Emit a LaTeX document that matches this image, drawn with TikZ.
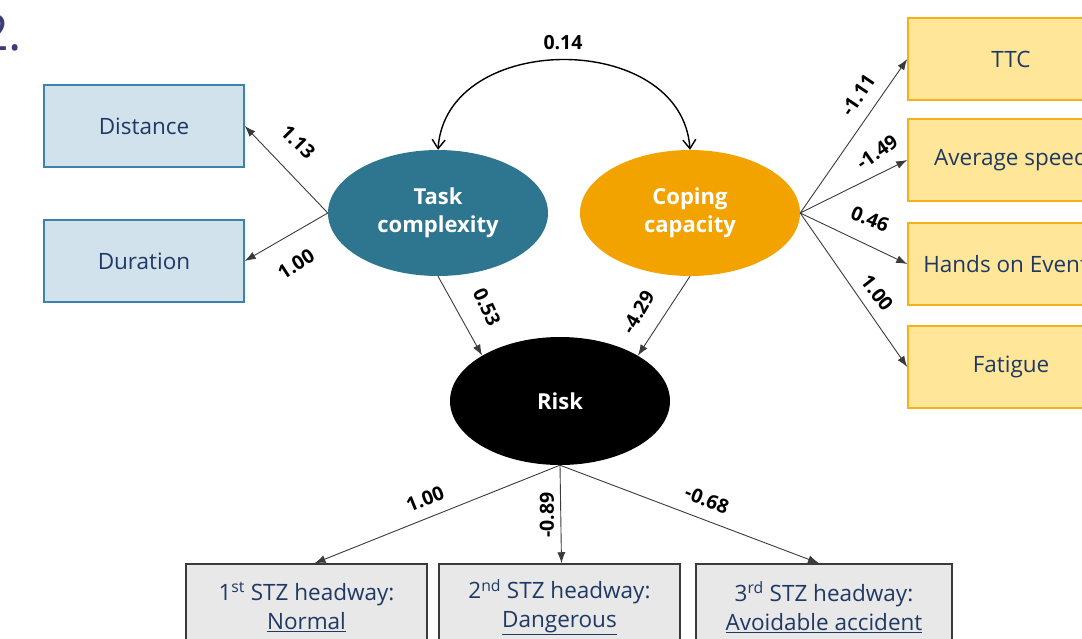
\documentclass[tikz,border=0pt]{standalone}
\usepackage{fontspec}
\setmainfont{Open Sans}
\usetikzlibrary{shapes.geometric,arrows.meta}
\definecolor{navy}{HTML}{1F3864}
\definecolor{numcol}{HTML}{3C3C78}
\definecolor{bluefill}{HTML}{D2E2EC}
\definecolor{blueedge}{HTML}{3B83A8}
\definecolor{taskcol}{HTML}{2E7590}
\definecolor{copecol}{HTML}{F2A300}
\definecolor{yelfill}{HTML}{FFE699}
\definecolor{yeledge}{HTML}{F5B01C}
\definecolor{grayfill}{HTML}{E8E8E8}
\definecolor{grayedge}{HTML}{3A3A3A}
\definecolor{linecol}{HTML}{3A3A3A}
\tikzset{
  bluebox/.style={draw=blueedge,line width=1.5pt,fill=bluefill,minimum width=200pt,minimum height=82pt,text=navy,font=\fontsize{22.5}{26}\selectfont},
  yelbox/.style={draw=yeledge,line width=1.5pt,fill=yelfill,minimum width=206pt,minimum height=82pt,text=navy,font=\fontsize{22.5}{26}\selectfont},
  graybox/.style={draw=grayedge,line width=1.5pt,fill=grayfill,minimum height=86pt,text=navy,align=center,font=\fontsize{22.5}{29}\selectfont},
  latent/.style={ellipse,minimum width=220pt,minimum height=126pt,text=white,align=center,font=\bfseries\fontsize{22}{28}\selectfont,inner sep=0pt},
  path/.style={draw=linecol,line width=0.9pt,-{Latex[length=11pt,width=8pt]}},
  wlabel/.style={font=\bfseries\fontsize{19.5}{21}\selectfont,inner sep=0pt}
}
\begin{document}
\begin{tikzpicture}[x=1pt,y=-1pt]
\useasboundingbox (0,0) rectangle (1082,638);
\clip (0,0) rectangle (1082,638);

\node[anchor=base west,inner sep=0pt,text=numcol,font=\fontsize{50}{50}\selectfont] (num) at (-20,50) {2.};

\node[bluebox] (dist) at (144,126) {Distance};
\node[bluebox] (dur) at (144,261) {Duration};

\node[latent,fill=taskcol] (tc) at (438,213) {Task\\complexity};
\node[latent,fill=copecol] (cc) at (690,213) {Coping\\capacity};
\node[latent,fill=black,minimum height=128pt] (risk) at (560,401) {Risk};

\node[yelbox] (ttc) at (1011,59) {TTC};
\node[yelbox] (avg) at (1011,160) {Average speed};
\node[yelbox] (hands) at (1011,264) {Hands on Events};
\node[yelbox] (fat) at (1011,367) {Fatigue};

\node[graybox,minimum width=241pt] (b1) at (306.5,607) {1\textsuperscript{st} STZ headway:\\\underline{Normal}};
\node[graybox,minimum width=241pt] (b2) at (559.5,607) {2\textsuperscript{nd} STZ headway:\\\underline{Dangerous}};
\node[graybox,minimum width=256pt] (b3) at (824,607) {3\textsuperscript{rd} STZ headway:\\\underline{Avoidable accident}};

% paths
\draw[path] (tc.west) -- (dist.east);
\draw[path] (tc.west) -- (dur.east);
\draw[path] (tc.south) -- (risk.north west);
\draw[path] (cc.south) -- (risk.north east);
\draw[path] (cc.east) -- (ttc.west);
\draw[path] (cc.east) -- (avg.west);
\draw[path] (cc.east) -- (hands.west);
\draw[path] (cc.east) -- (fat.west);
\draw[path] (risk.south) -- ([xshift=8pt]b1.north);
\draw[path] (risk.south) -- ([xshift=2pt]b2.north);
\draw[path] (risk.south) -- ([xshift=-5pt]b3.north);

\draw[line width=1.4pt,{Straight Barb[length=9pt,width=13pt]}-{Straight Barb[length=9pt,width=13pt]}]
  (tc.north) .. controls (446,30) and (682,30) .. (cc.north);

% labels
\node[wlabel] (l014) at (563,43) {0.14};
\node[wlabel,rotate=-45] (l113) at (298,142) {1.13};
\node[wlabel,rotate=33] (l100a) at (296,264) {1.00};
\node[wlabel,rotate=-65] (l053) at (487,307) {0.53};
\node[wlabel,rotate=60] (l429) at (638,312) {-4.29};
\node[wlabel,rotate=56] (l111) at (858,95) {-1.11};
\node[wlabel,rotate=35] (l149) at (877,152) {-1.49};
\node[wlabel,rotate=-22] (l046) at (870,219) {0.46};
\node[wlabel,rotate=-52] (l100b) at (877,293) {1.00};
\node[wlabel,rotate=22] (l100c) at (425,499) {1.00};
\node[wlabel,rotate=90] (l089) at (547,515) {-0.89};
\node[wlabel,rotate=-22] (l068) at (707,500) {-0.68};
\end{tikzpicture}
\end{document}
